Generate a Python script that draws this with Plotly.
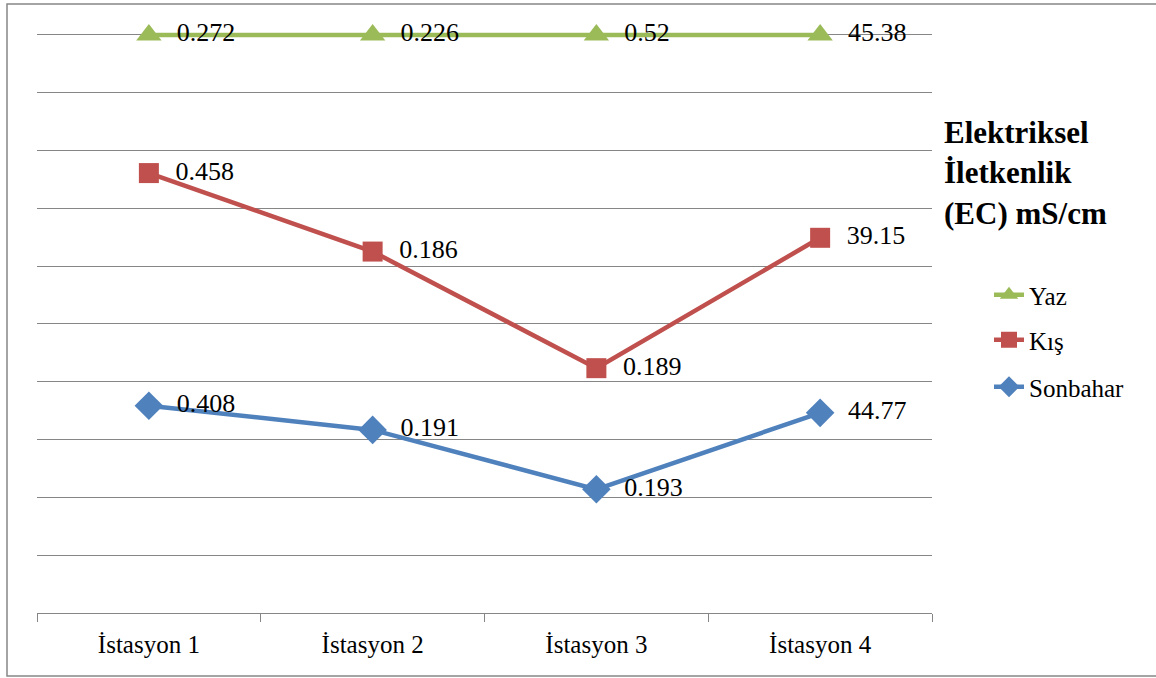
import plotly.graph_objects as go

# Electrical conductivity (EC, mS/cm) per station and season
stations = ["İstasyon 1", "İstasyon 2", "İstasyon 3", "İstasyon 4"]
sonbahar = [0.408, 0.191, 0.193, 44.77]
kis = [0.458, 0.186, 0.189, 39.15]
yaz = [0.272, 0.226, 0.52, 45.38]

# (name, values, colour, marker, marker size, legend id, legend row y in px)
series = [
    ("Sonbahar", sonbahar, "#4F81BD", "diamond", 22, "legend3", 387),
    ("Kış", kis, "#C0504D", "square", 20, "legend2", 340),
    ("Yaz", yaz, "#9BBB59", "triangle-up", 22, "legend", 295),
]

FONT = "Times New Roman, Liberation Serif, serif"
NBSP = "\u00a0"
W, H = 1156, 678
# plot area: x 37..932 px, y-value 1.0 at 35 px, 0 at 613 px
L, R, B = 37, 224, 65
YMAX = 1.05
UNIT = 578  # pixels per 1.0 of y
T = 35 - int(round((YMAX - 1) * UNIT))
PW = W - L - R
PH = H - T - B


def px_x(px):
    return (px - L) / PW


def px_y(py):
    return (H - B - py) / PH


fig = go.Figure()
legends = {}
for name, vals, color, symbol, size, leg, leg_y in series:
    # 100% stacked lines: each season drawn as its cumulative share
    fig.add_trace(go.Scatter(
        x=stations, y=vals, name=name,
        stackgroup="ec", groupnorm="fraction", fill="none",
        legend=leg,
        mode="lines+markers+text",
        line=dict(color=color, width=4.5),
        marker=dict(symbol=symbol, size=size, color=color),
        text=[NBSP * 2 + f"{v:g}" for v in vals],
        textposition="middle right",
        textfont=dict(family=FONT, size=26, color="black"),
        cliponaxis=False,
    ))
    legends[leg] = dict(
        x=px_x(989), y=px_y(leg_y), xanchor="left", yanchor="middle",
        bgcolor="rgba(0,0,0,0)",
        font=dict(family=FONT, size=25, color="black"),
    )

fig.update_layout(
    width=W, height=H,
    margin=dict(l=L, r=R, t=T, b=B),
    paper_bgcolor="white", plot_bgcolor="white",
    font=dict(family=FONT, size=25, color="black"),
    showlegend=True,
    **legends,
    xaxis=dict(
        type="category", range=[-0.5, 3.5],
        showgrid=False, showline=True, linecolor="#868686", linewidth=1,
        ticks="outside", tickson="boundaries", ticklen=8, tickcolor="#868686",
        ticklabelstandoff=9,
        tickfont=dict(family=FONT, size=25, color="black"),
    ),
    yaxis=dict(
        range=[0, YMAX], tick0=0, dtick=0.1, showticklabels=False,
        showgrid=True, gridcolor="#868686", gridwidth=1,
        zeroline=False, showline=False, fixedrange=True,
    ),
    annotations=[dict(
        xref="paper", yref="paper", x=px_x(942), y=px_y(113),
        xanchor="left", yanchor="top", align="left", showarrow=False,
        text="<b>Elektriksel<br>İletkenlik<br>(EC) mS/cm</b>",
        font=dict(family=FONT, size=31, color="black"),
    )],
    shapes=[dict(
        type="rect", xref="paper", yref="paper", layer="below",
        x0=px_x(7), x1=px_x(1170), y0=px_y(676), y1=px_y(4),
        line=dict(color="#868686", width=1.5),
    )],
)

fig.write_html("out.html")
